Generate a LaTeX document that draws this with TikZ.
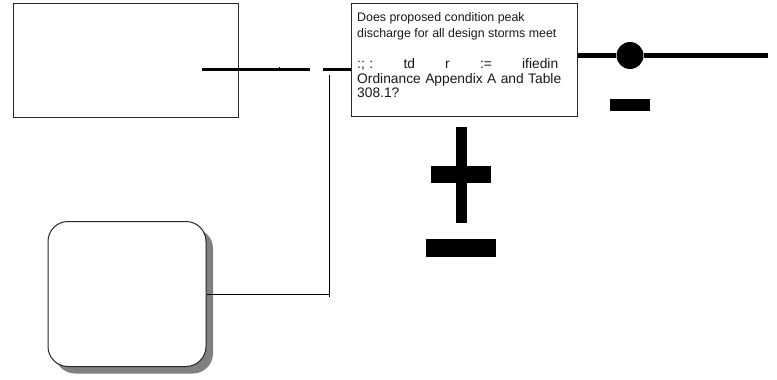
\documentclass[tikz,border=0pt]{standalone}
\usepackage{fontspec}
\setmainfont{Liberation Sans}
\usetikzlibrary{shadows}
\begin{document}
\begin{tikzpicture}[x=1pt,y=-1pt,
  plainbox/.style={draw=black!85,line width=1pt,fill=white,inner sep=0pt},
  txt/.style={anchor=base west,inner sep=0pt,font=\fontsize{12.4}{15}\selectfont,text=black!90},
  bigtxt/.style={txt,font=\fontsize{13.8}{15}\selectfont},
  thick line/.style={line width=3pt},
  heavy line/.style={line width=4.2pt},
  thin line/.style={line width=1pt},
  bar/.style={fill=black,draw=none,inner sep=0pt}]
\useasboundingbox (0,0) rectangle (777,380);
% boxes
\node[plainbox,minimum width=225pt,minimum height=114pt] (box1) at (125.5,60) {};
\node[plainbox,minimum width=226pt,minimum height=113pt] (dec) at (464,59.5) {};
\node[plainbox,rounded corners=20pt,minimum width=158pt,minimum height=145pt,
  drop shadow={shadow xshift=7pt,shadow yshift=-7pt,fill=black!50,opacity=1}] (rbox) at (127,294) {};
% decision text
\node[txt] (t1) at (357,21.7) {Does proposed condition peak};
\node[txt] (t2) at (357,37.3) {discharge for all design storms meet};
\node[bigtxt] (t3) at (357,68.3) {\makebox[201pt][l]{:;\,\,:\hfill td\hfill r\hfill :=\hfill ifiedin}};
\node[bigtxt] (t4) at (357,83.3) {\makebox[204pt][s]{Ordinance Appendix A and Table}};
\node[bigtxt] (t5) at (357,97.7) {308.1?};
% left thick segments
\coordinate (la) at (201.5,69);
\coordinate (lb) at (310,69);
\coordinate (lc) at (322.5,69);
\coordinate (ld) at (dec.west |- lc);
\draw[thick line] (la) -- (lb);
\draw[line width=0.6pt] (279,67) -- (279,71);
\draw[thick line] (lc) -- (ld);
% thin connector from rounded box
\coordinate (vt) at (329.3,74.5);
\coordinate (vb) at (329.3,297);
\draw[thin line] (rbox.east) -- (rbox.east -| vt);
\draw[thin line] (vt) -- (vb);
% right side
\node[circle,fill=black,inner sep=0pt,minimum size=27pt] (dot) at (630,55.5) {};
\coordinate (rend) at (768,55.5);
\draw[heavy line] (dec.east |- dot) -- (dot) -- (rend);
\node[bar,minimum width=40pt,minimum height=12pt] (m1) at (630,105) {};
% plus and minus
\node[bar,minimum width=11pt,minimum height=96pt] (pv) at (461.5,175) {};
\node[bar,minimum width=60pt,minimum height=17pt] (ph) at (461,174.5) {};
\node[bar,minimum width=70pt,minimum height=18pt] (m2) at (461,248) {};
\end{tikzpicture}
\end{document}
